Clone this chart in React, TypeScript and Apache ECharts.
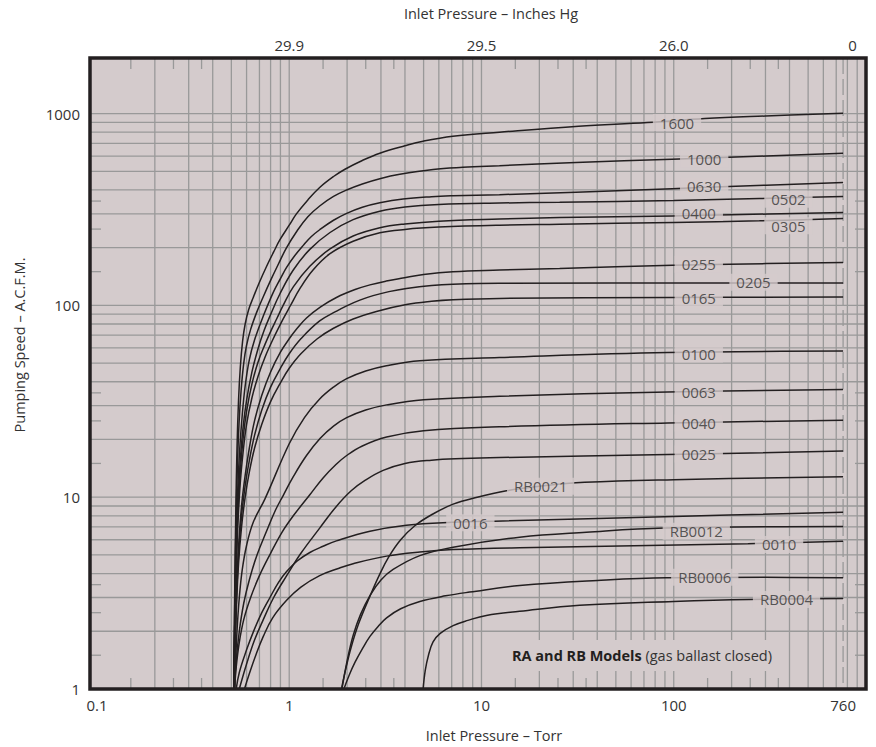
import React, { useEffect, useRef } from 'react';
import * as echarts from 'echarts';

// ---- Models (curve names) ----
const MODELS = ['1600', '1000', '0630', '0502', '0400', '0305', '0255', '0205', '0165', '0100', '0063', '0040', '0025', '0016', '0010', 'RB0021', 'RB0012', 'RB0006', 'RB0004'];

// ---- Curves: [inlet pressure (Torr), pumping speed (ACFM)] ----
const c1600 = [[0.515, 1], [0.52, 3], [0.527, 8], [0.535, 18], [0.545, 32], [0.557, 48], [0.572, 65], [0.59, 80], [0.615, 95], [0.65, 110], [0.7, 132], [0.763, 160], [0.83, 190], [0.895, 220], [1.0, 262], [1.09, 300], [1.25, 355], [1.44, 412], [1.7, 470], [1.95, 513], [2.4, 570], [2.96, 622], [4, 680], [4.97, 718], [7.1, 762], [12.4, 800], [32, 860], [73, 898], [145, 942], [300, 972], [760, 1005]];
const c1000 = [[0.515, 1], [0.52, 2.5], [0.528, 7], [0.537, 14], [0.548, 24], [0.562, 36], [0.58, 50], [0.6, 62], [0.63, 75], [0.677, 92], [0.73, 110], [0.8, 135], [0.88, 165], [0.969, 200], [1.1, 245], [1.25, 290], [1.44, 330], [1.7, 370], [1.99, 400], [2.4, 430], [2.96, 458], [3.76, 483], [5.6, 512], [8, 525], [12.4, 535], [31, 556], [98, 578], [194, 592], [760, 621]];
const c0630 = [[0.515, 1], [0.52, 2], [0.53, 6], [0.54, 11], [0.553, 18], [0.57, 27], [0.59, 38], [0.62, 52], [0.66, 66], [0.733, 88], [0.826, 117], [0.9, 138], [0.969, 158], [1.07, 182], [1.18, 205], [1.3, 228], [1.44, 248], [1.7, 278], [1.99, 302], [2.4, 325], [2.96, 343], [3.91, 359], [5.5, 369], [7.1, 373], [12.4, 378], [31, 389], [98, 406], [194, 417], [760, 437]];
const c0502 = [[0.515, 1], [0.52, 2], [0.53, 5], [0.54, 9], [0.555, 15], [0.575, 23], [0.6, 32], [0.64, 45], [0.69, 60], [0.74, 74], [0.794, 88], [0.895, 115], [1.05, 153], [1.28, 196], [1.63, 240], [2.15, 280], [2.96, 310], [4, 326], [6, 336], [12.4, 342], [25.5, 345], [100, 352], [279, 361], [760, 370]];
const c0400 = [[0.515, 1], [0.52, 1.8], [0.53, 4.5], [0.54, 8], [0.555, 13], [0.575, 20], [0.6, 28], [0.64, 39], [0.69, 51], [0.75, 63], [0.81, 75], [0.86, 85], [0.93, 100], [1.05, 125], [1.28, 160], [1.63, 197], [2.15, 230], [2.96, 254], [4, 266], [6, 275], [12.4, 282], [25.5, 287], [98.5, 293], [200, 297], [760, 305]];
const c0305 = [[0.515, 1], [0.52, 1.7], [0.53, 4], [0.54, 7], [0.555, 11.5], [0.575, 17], [0.6, 24], [0.64, 33], [0.69, 43], [0.75, 54], [0.82, 66], [0.93, 85], [1.01, 99], [1.14, 123], [1.33, 153], [1.63, 186], [2.15, 216], [2.96, 239], [4, 249], [6, 256], [12.4, 262], [25.5, 265], [100, 271], [279, 276], [760, 284]];
const c0255 = [[0.515, 1], [0.52, 1.5], [0.53, 3], [0.545, 5.5], [0.565, 9], [0.59, 13], [0.62, 18], [0.66, 25], [0.72, 34], [0.8, 45], [0.9, 57], [1.0, 67], [1.1, 76], [1.23, 86], [1.45, 98], [1.76, 110], [2.2, 121], [2.63, 128], [3.2, 134], [3.9, 139], [5, 145], [7.1, 150], [12.4, 153], [25.5, 156], [98.5, 162], [194, 164], [760, 167.5]];
const c0205 = [[0.515, 1], [0.52, 1.4], [0.53, 2.7], [0.545, 5], [0.565, 8], [0.59, 11.5], [0.62, 15.5], [0.66, 21], [0.72, 28.5], [0.8, 37.5], [0.9, 47], [1.0, 56], [1.15, 67], [1.44, 83], [1.75, 93], [1.99, 99.5], [2.33, 106.5], [2.73, 112.5], [3.3, 118], [4.07, 122.5], [5.5, 127], [7.1, 129], [12.4, 130.5], [760, 131]];
const c0165 = [[0.515, 1], [0.52, 1.35], [0.53, 2.5], [0.545, 4.5], [0.565, 7], [0.59, 10], [0.62, 13.5], [0.66, 18], [0.72, 24], [0.8, 31.5], [0.9, 39.5], [1.0, 47], [1.15, 56], [1.4, 67], [1.7, 76], [2.15, 85], [2.84, 93], [4.07, 101], [5.5, 105], [7.1, 107], [12.4, 108.8], [98, 110], [760, 110.5]];
const c0100 = [[0.52, 1], [0.525, 1.3], [0.535, 2], [0.55, 3], [0.57, 4.2], [0.6, 5.6], [0.65, 7.4], [0.748, 9.8], [1.0, 19], [1.2, 26], [1.44, 32.5], [1.7, 37.5], [1.99, 41.5], [2.5, 45.5], [3.2, 48.5], [4.78, 51.5], [12.4, 53.5], [93, 56.8], [760, 57.8]];
const c0063 = [[0.52, 1], [0.53, 1.4], [0.55, 2], [0.58, 2.8], [0.62, 3.7], [0.68, 5], [0.76, 6.6], [0.85, 8.6], [0.93, 10.2], [1.05, 12.8], [1.23, 16.5], [1.45, 20.3], [1.7, 23.5], [1.99, 26], [2.5, 28.5], [3.21, 30.3], [5, 32.2], [12.4, 33.6], [93, 35.4], [760, 36.4]];
const c0040 = [[0.52, 1], [0.53, 1.3], [0.55, 1.75], [0.58, 2.3], [0.63, 3], [0.7, 3.9], [0.8, 5.1], [0.92, 6.6], [1.05, 8.0], [1.28, 10.3], [1.5, 12.6], [1.75, 14.8], [1.99, 16.5], [2.4, 18.5], [3.21, 20.6], [5, 22.2], [12.4, 23.3], [93, 24.4], [760, 25.2]];
const c0025 = [[0.55, 1], [0.6, 1.35], [0.66, 1.8], [0.733, 2.3], [0.83, 3.0], [0.97, 3.9], [1.15, 5.1], [1.44, 6.9], [1.75, 8.9], [2.1, 10.8], [2.5, 12.3], [3.08, 13.8], [4, 15], [5.5, 15.6], [8, 15.9], [12.4, 16.1], [93, 16.7], [760, 17.4]];
const c0016 = [[0.53, 1], [0.55, 1.22], [0.6, 1.6], [0.65, 1.98], [0.72, 2.5], [0.794, 3.0], [0.88, 3.6], [0.969, 4.1], [1.1, 4.65], [1.28, 5.15], [1.5, 5.55], [1.76, 5.92], [2.63, 6.65], [4.07, 7.15], [7, 7.4], [12.9, 7.52], [100, 7.94], [760, 8.35]];
const c0010 = [[0.585, 1], [0.62, 1.2], [0.67, 1.5], [0.733, 1.88], [0.82, 2.35], [0.969, 2.9], [1.15, 3.4], [1.44, 3.9], [1.8, 4.25], [2.15, 4.5], [3.21, 4.93], [4.78, 5.18], [7.1, 5.33], [15.8, 5.45], [243, 5.72], [760, 5.9]];
const cRB0021 = [[1.87, 1], [1.95, 1.22], [2.1, 1.65], [2.3, 2.2], [2.63, 3.05], [2.95, 3.95], [3.3, 4.9], [3.8, 6.0], [4.5, 7.1], [5.5, 8.1], [7.12, 9.2], [9.5, 10.0], [13.5, 10.8], [20, 11.4], [34.4, 11.95], [100, 12.35], [760, 12.8]];
const cRB0012 = [[1.88, 1], [2.0, 1.4], [2.15, 1.9], [2.35, 2.45], [2.63, 3.07], [3.0, 3.7], [3.47, 4.2], [4.78, 4.96], [7.12, 5.49], [15.8, 6.19], [35.1, 6.57], [89.7, 6.9], [760, 7.03]];
const cRB0006 = [[1.925, 1], [2.05, 1.18], [2.2, 1.38], [2.4, 1.62], [2.63, 1.88], [2.9, 2.12], [3.21, 2.35], [3.8, 2.62], [4.78, 2.86], [6.5, 3.06], [8.68, 3.2], [15.8, 3.46], [40, 3.68], [91.5, 3.8], [300, 3.82], [760, 3.8]];
const cRB0004 = [[4.97, 1], [5.1, 1.25], [5.3, 1.5], [5.6, 1.76], [6.1, 1.95], [7.12, 2.14], [8.5, 2.28], [10.6, 2.42], [15.8, 2.54], [32.4, 2.73], [100, 2.86], [246, 2.93], [760, 2.96]];

const CURVES = [c1600, c1000, c0630, c0502, c0400, c0305, c0255, c0205, c0165, c0100, c0063, c0040, c0025, c0016, c0010, cRB0021, cRB0012, cRB0006, cRB0004];

// ---- Curve label anchors (Torr, ACFM), same order as MODELS ----
const LABEL_P = [104, 144, 144, 395, 135, 395, 135, 260, 135, 135, 135, 135, 135, 8.75, 353, 20.3, 131, 145, 386];
const LABEL_S = [898, 578, 420, 358, 305, 260, 164, 132, 108.7, 55.8, 35.5, 24.4, 16.8, 7.35, 5.67, 11.4, 6.65, 3.83, 2.93];

// ---- Axes ----
const X_RANGE = [0.092, 1000];
const Y_RANGE = [1, 1950];
const X_TICK_VALUES = [0.1, 1, 10, 100, 760];
const X_TICK_LABELS = ['0.1', '1', '10', '100', '760'];
const TOP_TICK_VALUES = [1, 10, 100, 850];
const TOP_TICK_LABELS = ['29.9', '29.5', '26.0', '0'];
const Y_TICK_VALUES = [1, 10, 100, 1000];
const Y_TICK_LABELS = ['1', '10', '100', '1000'];
const GRID_X = [0.2, 0.3, 0.4, 0.5, 0.6, 0.7, 0.8, 0.9, 1, 2, 3, 4, 5, 6, 7, 8, 9, 10, 20, 30, 40, 50, 60, 70, 80, 90, 100, 200, 300, 400, 500, 600, 700, 800, 900];
const GRID_Y = [2, 3, 4, 5, 6, 7, 8, 9, 10, 20, 30, 40, 50, 60, 70, 80, 90, 100, 200, 300, 400, 500, 600, 700, 800, 900, 1000];
const SHORT_X = [0.15, 0.25, 0.35, 1.5, 2.5, 3.5, 15, 25, 35, 150, 250, 350];
const SHORT_Y = [1.5, 2.5, 3.5, 15, 25, 35, 150, 250, 350];
const ATM = 760;

const TITLE_TOP = 'Inlet Pressure – Inches Hg';
const TITLE_BOTTOM = 'Inlet Pressure – Torr';
const TITLE_Y = 'Pumping Speed – A.C.F.M.';
const NOTE_BOLD = 'RA and RB Models';
const NOTE_REST = ' (gas ballast closed)';

const FONT = "'Open Sans', 'DejaVu Sans', sans-serif";
const BG = '#d4cbcc';
const INK = '#231f20';
const GRIDC = '#999999';
const TEXTC = '#333333';
const TICK = 11;

const lg = (v: number) => Math.log10(v);

function pickLabel(v: number, vals: number[], labels: string[]) {
  let best = 0;
  let d = Infinity;
  vals.forEach((x, i) => {
    const dd = Math.abs(lg(x) - v);
    if (dd < d) { d = dd; best = i; }
  });
  return d < 1e-3 ? labels[best] : '';
}

export default function App() {
  const ref = useRef<HTMLDivElement>(null);

  useEffect(() => {
    const chart = echarts.init(ref.current!, null, { renderer: 'svg' });
    const xMin = lg(X_RANGE[0]);
    const xMax = lg(X_RANGE[1]);
    const yMin = lg(Y_RANGE[0]);
    const yMax = lg(Y_RANGE[1]);

    const gridData: number[][] = [
      ...GRID_X.map((v) => [lg(v), yMin, 0]),
      ...GRID_Y.map((v) => [xMin, lg(v), 1]),
      ...SHORT_X.map((v) => [lg(v), yMin, 2]),
      ...SHORT_Y.map((v) => [xMin, lg(v), 3]),
      [lg(ATM), yMin, 4],
    ];

    const lineStyle = { stroke: GRIDC, lineWidth: 1.3 };

    const axisCommon = {
      type: 'value',
      min: xMin,
      max: xMax,
      axisLine: { show: false },
      axisTick: { show: false },
      splitLine: { show: false },
    };

    const option: any = {
      animation: false,
      textStyle: { fontFamily: FONT },
      grid: {
        left: 90, top: 58, width: 776, height: 631,
        show: true, backgroundColor: BG, borderWidth: 0,
      },
      xAxis: [
        {
          ...axisCommon,
          position: 'bottom',
          axisLabel: {
            customValues: X_TICK_VALUES.map(lg),
            formatter: (v: number) => pickLabel(v, X_TICK_VALUES, X_TICK_LABELS),
            margin: 8, fontSize: 15, color: TEXTC, fontFamily: FONT,
          },
        },
        {
          ...axisCommon,
          position: 'top',
          axisLabel: {
            customValues: TOP_TICK_VALUES.map(lg),
            formatter: (v: number) => pickLabel(v, TOP_TICK_VALUES, TOP_TICK_LABELS),
            margin: 6, fontSize: 15, color: TEXTC, fontFamily: FONT,
          },
        },
      ],
      yAxis: {
        type: 'value',
        min: yMin,
        max: yMax,
        axisLine: { show: false },
        axisTick: { show: false },
        splitLine: { show: false },
        axisLabel: {
          customValues: Y_TICK_VALUES.map(lg),
          formatter: (v: number) => pickLabel(v, Y_TICK_VALUES, Y_TICK_LABELS),
          margin: 10, fontSize: 15, color: TEXTC, fontFamily: FONT,
        },
      },
      graphic: [
        {
          type: 'text', x: 491, y: 13, z: 10,
          style: { text: TITLE_TOP, align: 'center', verticalAlign: 'middle', fontSize: 14.5, fontFamily: FONT, fill: TEXTC },
        },
        {
          type: 'text', x: 494, y: 735, z: 10,
          style: { text: TITLE_BOTTOM, align: 'center', verticalAlign: 'middle', fontSize: 14.5, fontFamily: FONT, fill: TEXTC },
        },
        {
          type: 'text', x: 19, y: 345, rotation: Math.PI / 2, z: 10,
          style: { text: TITLE_Y, align: 'center', verticalAlign: 'middle', fontSize: 14.5, fontFamily: FONT, fill: TEXTC },
        },
        {
          type: 'text', x: 506, y: 640, z: 10,
          style: {
            text: '{b|' + NOTE_BOLD + '}' + NOTE_REST,
            rich: { b: { fontWeight: 'bold', fontSize: 14.5, fontFamily: FONT, fill: INK } },
            align: 'left', verticalAlign: 'top',
            fontSize: 14.5, fontFamily: FONT, fill: TEXTC,
            backgroundColor: BG, padding: [8, 6, 8, 6],
          },
        },
      ],
      series: [
        {
          type: 'custom',
          name: 'grid',
          silent: true,
          z: 1,
          encode: { x: 0, y: 1 },
          data: gridData,
          renderItem: (params: any, api: any) => {
            const cs = params.coordSys;
            const kind = api.value(2);
            const pt = api.coord([api.value(0), api.value(1)]);
            if (kind === 0) {
              return { type: 'line', shape: { x1: pt[0], y1: cs.y, x2: pt[0], y2: cs.y + cs.height }, style: lineStyle };
            }
            if (kind === 1) {
              return { type: 'line', shape: { x1: cs.x, y1: pt[1], x2: cs.x + cs.width, y2: pt[1] }, style: lineStyle };
            }
            if (kind === 2) {
              return {
                type: 'group',
                children: [
                  { type: 'line', shape: { x1: pt[0], y1: cs.y, x2: pt[0], y2: cs.y + TICK }, style: lineStyle },
                  { type: 'line', shape: { x1: pt[0], y1: cs.y + cs.height - TICK, x2: pt[0], y2: cs.y + cs.height }, style: lineStyle },
                ],
              };
            }
            if (kind === 3) {
              return {
                type: 'group',
                children: [
                  { type: 'line', shape: { x1: cs.x, y1: pt[1], x2: cs.x + TICK, y2: pt[1] }, style: lineStyle },
                  { type: 'line', shape: { x1: cs.x + cs.width - TICK, y1: pt[1], x2: cs.x + cs.width, y2: pt[1] }, style: lineStyle },
                ],
              };
            }
            return {
              type: 'line',
              shape: { x1: pt[0], y1: cs.y, x2: pt[0], y2: cs.y + cs.height },
              style: { ...lineStyle, lineDash: [16, 5] },
            };
          },
        },
        ...CURVES.map((c, i) => ({
          type: 'line',
          name: MODELS[i],
          silent: true,
          z: 3,
          data: c.map(([p, s]) => [lg(p), lg(s)]),
          showSymbol: false,
          symbol: 'none',
          smooth: 0.4,
          lineStyle: { color: INK, width: 1.5 },
          emphasis: { disabled: true },
        })),
        {
          type: 'scatter',
          name: 'labels',
          silent: true,
          z: 5,
          symbolSize: 1,
          itemStyle: { color: 'rgba(0,0,0,0)' },
          data: MODELS.map((m, i) => ({ name: m, value: [lg(LABEL_P[i]), lg(LABEL_S[i])] })),
          label: {
            show: true,
            position: 'inside',
            formatter: '{b}',
            fontSize: 15,
            fontFamily: FONT,
            color: TEXTC,
            backgroundColor: BG,
            padding: [0, 7],
            lineHeight: 17,
          },
          emphasis: { disabled: true },
        },
        {
          type: 'custom',
          name: 'frame',
          silent: true,
          z: 20,
          encode: { x: 0, y: 1 },
          data: [[xMin, yMin]],
          renderItem: (params: any) => {
            const cs = params.coordSys;
            return {
              type: 'rect',
              shape: { x: cs.x, y: cs.y, width: cs.width, height: cs.height },
              style: { fill: 'none', stroke: INK, lineWidth: 3.5 },
            };
          },
        },
      ],
    };

    chart.setOption(option);
    return () => chart.dispose();
  }, []);

  return <div ref={ref} style={{ position: 'absolute', left: 0, top: 0, width: 876, height: 747 }} />;
}
